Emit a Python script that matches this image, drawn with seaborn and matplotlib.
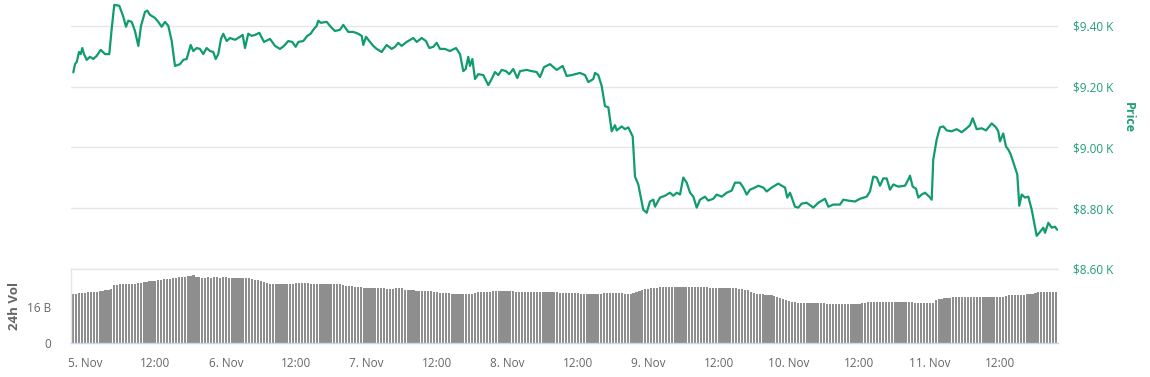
import matplotlib
matplotlib.use("Agg")
import matplotlib.pyplot as plt
import seaborn as sns
import pandas as pd

# price samples: hours after 5 Nov 2019 00:00 and USD price
price_hours = [
    -1.99, -1.70, -1.41, -1.02, -0.73, -0.46, -0.17, 0.29, 0.85, 1.41, 1.99, 2.68, 3.41, 4.14, 4.55, 4.99,
    5.85, 6.53, 6.99, 7.38, 7.96, 8.52, 9.09, 9.55, 10.23, 10.62, 11.08, 11.93, 12.49, 13.07, 13.64, 14.20,
    14.78, 15.34, 16.19, 16.76, 17.33, 18.02, 18.46, 19.04, 19.60, 20.16, 20.74, 21.31, 21.87, 22.28, 22.72,
    23.18, 23.57, 24.15, 24.72, 25.57, 26.42, 26.88, 27.27, 27.83, 28.41, 28.98, 29.71, 30.51, 31.53, 32.39,
    33.24, 33.92, 34.65, 35.33, 35.91, 36.36, 37.21, 37.89, 38.47, 38.91, 39.49, 39.77, 40.18, 41.20, 41.88,
    42.61, 43.46, 44.03, 44.88, 45.73, 46.58, 47.16, 47.44, 47.90,
    48.58, 49.14, 49.72, 50.57, 51.42, 52.28, 52.84, 53.40, 53.98, 54.83, 55.96, 56.54, 57.39, 58.12, 58.69,
    59.37, 59.95, 60.51, 61.36, 62.21, 63.24, 63.92, 64.48, 64.89, 65.33, 65.62, 66.02, 66.48, 67.04, 67.89,
    68.74, 69.32, 69.88, 70.45, 71.03, 71.76, 72.32, 73.00, 73.69, 74.15, 75.29, 76.14, 76.99, 77.55, 78.24,
    79.26, 80.40, 81.42, 82.10, 82.96, 84.37, 85.23, 85.79, 86.64, 86.93, 87.49, 88.07, 88.63, 89.20, 89.78,
    90.34, 90.63, 91.48, 92.04, 92.61, 93.36, 93.75, 94.31, 95.16, 95.74, 96.30, 96.87, 97.16, 98.01, 98.86,
    99.71, 100.28, 100.86, 101.42, 101.98, 102.56, 103.13, 103.69, 104.27, 104.83, 105.68, 106.24, 107.09,
    107.67, 108.53, 109.38, 110.23, 110.79, 111.64, 112.21, 112.79, 113.35, 114.20, 114.76, 115.62, 116.20,
    117.05, 118.17, 118.75, 119.32, 119.71, 120.17, 121.02, 121.58, 122.16, 123.01, 124.14, 124.99, 126.13,
    126.70, 127.55, 128.69, 129.25, 130.10, 131.25, 132.10, 133.24, 133.80, 134.37, 134.95, 135.51, 136.07,
    136.65, 137.21, 137.78, 138.63, 139.77, 140.33, 140.62, 141.08, 141.65, 142.04, 142.62, 143.18, 143.91,
    144.32, 144.59, 145.17, 145.74, 146.30, 146.88, 147.73, 148.58, 149.43, 150.28, 150.85, 151.31, 151.99,
    152.84, 153.58, 154.55, 155.28, 155.67, 155.96, 156.52, 156.98, 157.38, 157.79, 158.52, 158.91, 159.25,
    159.66, 160.23, 160.79, 161.37, 162.22, 162.78, 163.35, 163.64, 164.20, 164.77, 165.33, 165.73,
]
price_usd = [
    9247, 9274, 9281, 9314, 9307, 9327, 9307, 9288, 9298, 9291, 9301, 9321, 9307, 9307, 9390, 9469,
    9466, 9430, 9397, 9417, 9413, 9383, 9334, 9400, 9446, 9450, 9436, 9426, 9413, 9397, 9413, 9400,
    9350, 9268, 9274, 9288, 9291, 9337, 9317, 9327, 9324, 9307, 9327, 9317, 9314, 9291, 9307,
    9357, 9374, 9350, 9360, 9354, 9364, 9370, 9327, 9374, 9367, 9370, 9377, 9347, 9357, 9334,
    9324, 9334, 9350, 9347, 9331, 9347, 9350, 9367, 9374, 9387, 9400, 9417, 9410, 9413, 9397,
    9383, 9387, 9403, 9380, 9380, 9374, 9367, 9337, 9364,
    9347, 9334, 9324, 9314, 9337, 9324, 9331, 9344, 9334, 9347, 9360, 9347, 9360, 9350, 9327,
    9331, 9344, 9324, 9324, 9317, 9327, 9307, 9251, 9258, 9298, 9268, 9291, 9225, 9241, 9238,
    9205, 9225, 9248, 9238, 9255, 9251, 9241, 9258, 9228, 9251, 9255, 9251, 9248, 9231, 9264,
    9274, 9255, 9268, 9235, 9238, 9245, 9238, 9215, 9225, 9245, 9238, 9202, 9136, 9132, 9053,
    9073, 9056, 9069, 9060, 9066, 9036, 8904, 8878, 8795, 8785, 8822, 8828, 8805, 8835, 8841,
    8851, 8841, 8851, 8845, 8901, 8884, 8851, 8838, 8802, 8828, 8838, 8825, 8831,
    8845, 8838, 8851, 8858, 8884, 8884, 8868, 8845, 8861, 8868, 8874, 8868, 8855,
    8868, 8881, 8874, 8868, 8835, 8851, 8805, 8802, 8815, 8818, 8802, 8818, 8831,
    8805, 8812, 8812, 8828, 8825, 8822, 8831, 8838, 8855, 8904, 8901, 8874, 8898,
    8898, 8861, 8878, 8871, 8874, 8894, 8907, 8871, 8864, 8835, 8845, 8851, 8838,
    8828, 8960, 9026, 9066, 9069, 9056, 9053, 9060, 9050, 9063, 9073, 9096, 9060,
    9063, 9056, 9079, 9066, 9053, 9020, 9046, 9003, 8993, 8977, 8934, 8911, 8808,
    8845, 8835, 8838, 8795, 8709, 8722, 8736, 8719, 8752, 8736, 8739, 8729,
]

# 24h volume in billions, one value per 30 minutes from 4 Nov 22:00
vol_b = [
    21.5, 21.7, 21.9, 22.1, 22.2, 22.3, 22.5, 22.6, 22.7, 22.9, 23.1, 23.3,
    23.6, 23.8, 25.4, 25.6, 25.8, 25.9, 26.0, 26.0, 26.1, 26.2, 26.4, 26.6,
    26.9, 27.0, 27.2, 27.3, 27.4, 27.6, 27.8, 28.0, 28.2, 28.4, 28.6, 28.8,
    29.0, 29.1, 29.3, 29.5, 29.7, 29.8, 29.3, 28.9, 28.8, 28.8, 28.9, 28.8,
    28.9, 28.9, 28.8, 28.9, 28.9, 28.8, 28.8, 28.7, 28.7, 28.6, 28.6, 28.5,
    28.5, 28.3, 27.9, 27.6, 27.2, 26.9, 26.5, 26.2, 26.1, 26.1, 26.0, 26.0,
    26.1, 26.0, 26.1, 26.2, 26.4, 26.5, 26.6, 26.6, 26.4, 26.2, 26.1, 26.0,
    26.0, 25.9, 26.0, 25.9, 25.9, 26.0, 25.9, 25.9, 25.6, 25.3, 25.2, 25.0,
    24.8, 24.7, 24.5, 24.4, 24.4, 24.4, 24.3, 24.4, 24.4, 24.3, 24.1, 24.0,
    23.8, 23.8, 24.3, 24.4, 24.4, 23.6, 23.4, 23.3, 23.2, 23.1, 23.1, 23.0,
    23.0, 22.9, 22.9, 22.7, 22.4, 22.2, 22.1, 22.0, 21.9, 21.8, 21.7, 21.6,
    21.6, 21.5, 21.5, 21.6, 21.8, 22.1, 22.4, 22.6, 22.6, 22.7, 22.7, 22.8,
    22.8, 22.9, 22.9, 22.9, 22.9, 22.8, 22.8, 22.7, 22.7, 22.7, 22.6, 22.6,
    22.6, 22.6, 22.5, 22.5, 22.4, 22.4, 22.4, 22.3, 22.3, 22.3, 22.2, 22.2,
    22.2, 22.1, 22.0, 21.9, 21.9, 21.8, 21.8, 21.7, 21.7, 21.6, 21.6, 21.6,
    21.8, 21.9, 22.0, 22.1, 22.2, 22.1, 22.0, 21.9, 21.7, 21.6, 21.5, 22.0,
    22.6, 23.0, 23.4, 23.7, 23.9, 24.1, 24.3, 24.4, 24.5, 24.6, 24.6, 24.7,
    24.7, 24.8, 24.8, 24.8, 24.8, 24.7, 24.7, 24.7, 24.6, 24.6, 24.5, 24.5,
    24.5, 24.4, 24.4, 24.4, 24.4, 24.4, 24.4, 24.4, 24.3, 24.2, 24.1, 24.0,
    23.8, 23.5, 23.2, 22.4, 21.9, 21.7, 21.6, 21.5, 21.4, 21.3, 21.1, 20.7,
    20.2, 19.7, 19.3, 18.8, 18.4, 18.1, 18.0, 17.9, 17.9, 17.8, 17.8, 17.7,
    17.7, 17.6, 17.6, 17.5, 17.5, 17.4, 17.4, 17.4, 17.4, 17.4, 17.4, 17.4,
    17.4, 17.4, 17.4, 17.4, 17.4, 17.5, 17.8, 18.1, 18.2, 18.2, 18.2, 18.2,
    18.2, 18.2, 18.2, 18.2, 18.2, 18.1, 18.1, 18.1, 18.0, 18.0, 18.0, 17.9,
    17.8, 17.7, 17.6, 17.6, 17.5, 17.5, 19.0, 19.4, 19.6, 19.8, 19.9, 20.0,
    20.1, 20.2, 20.3, 20.3, 20.3, 20.3, 20.4, 20.4, 20.4, 20.4, 20.4, 20.4,
    20.5, 20.5, 20.5, 20.5, 20.5, 20.5, 20.8, 21.1, 21.2, 21.2, 21.3, 21.3,
    21.4, 21.5, 21.5, 21.7, 22.2, 22.4, 22.5, 22.5, 22.6, 22.6, 22.6, 22.6,
]

tick_hours = [0, 12, 24, 36, 48, 60, 72, 84, 96, 108, 120, 132, 144, 156]
tick_labels = ["5. Nov", "12:00", "6. Nov", "12:00", "7. Nov", "12:00", "8. Nov",
               "12:00", "9. Nov", "12:00", "10. Nov", "12:00", "11. Nov", "12:00"]
price_ticks = [8600, 8800, 9000, 9200, 9400]
vol_ticks = [0, 16]

day0 = pd.Timestamp("2019-11-05 00:00")
vol_times = pd.date_range("2019-11-04 22:00", periods=len(vol_b), freq="30min")
vol_df = pd.DataFrame({"hours": (vol_times - day0) / pd.Timedelta(hours=1), "vol": vol_b})
price_df = pd.DataFrame({"hours": price_hours, "price": price_usd})

sns.set_style("white")
plt.rcParams["font.family"] = ["Open Sans", "DejaVu Sans"]

GREEN = "#109c6b"
GREEN_TXT = "#1f9e74"
GRID = "#e6e6e6"
AXIS = "#ccd6eb"
LABEL = "#666666"

W, H = 1150, 377
fig = plt.figure(figsize=(W / 100, H / 100), dpi=100)
left, right = 70.5, 1058
xlim = (-2.47, 165.85)

# price panel
ax = fig.add_axes([left / W, 1 - 269 / H, (right - left) / W, 269 / H])
sns.lineplot(data=price_df, x="hours", y="price", ax=ax, color=GREEN, linewidth=1.6)
ax.set_xlim(*xlim)
ax.set_ylim(8600, 9485)
ax.yaxis.tick_right()
ax.set_yticks(price_ticks)
ax.set_yticklabels([f"${v / 1000:.2f} K" for v in price_ticks], color=GREEN_TXT, fontsize=8.5)
ax.tick_params(axis="y", length=0, pad=11)
ax.set_xticks([])
ax.grid(axis="y", color=GRID, linewidth=1)
ax.set_axisbelow(True)
for s in ax.spines.values():
    s.set_visible(False)
ax.set_xlabel("")
ax.set_ylabel("")
fig.text(1128 / W, 1 - 118 / H, "Price", rotation=270, color=GREEN_TXT, fontsize=9,
         fontweight="bold", ha="center", va="center")

# volume panel
vax = fig.add_axes([left / W, 1 - 343.3 / H, (right - left) / W, (343.3 - 269) / H])
sns.barplot(data=vol_df, x="hours", y="vol", ax=vax, native_scale=True, color="#8e8e8e",
            width=0.75, linewidth=0, errorbar=None, saturation=1)
vax.set_xlim(*xlim)
vax.set_ylim(0, 32.6)
vax.set_xticks(tick_hours)
vax.set_xticklabels(tick_labels, color=LABEL, fontsize=8.5)
vax.tick_params(axis="x", length=7, color=AXIS, width=1, pad=3)
vax.set_yticks(vol_ticks)
vax.set_yticklabels(["0", "16 B"], color=LABEL, fontsize=8.5)
vax.tick_params(axis="y", length=0, pad=14)
for name, s in vax.spines.items():
    s.set_color(GRID if name != "bottom" else AXIS)
    s.set_linewidth(1)
vax.spines["right"].set_visible(False)
vax.set_xlabel("")
vax.set_ylabel("")
fig.text(15 / W, 1 - 306 / H, "24h Vol", rotation=90, color=LABEL, fontsize=9.5,
         fontweight="bold", ha="center", va="center")

fig.savefig("out.png", dpi=100)
